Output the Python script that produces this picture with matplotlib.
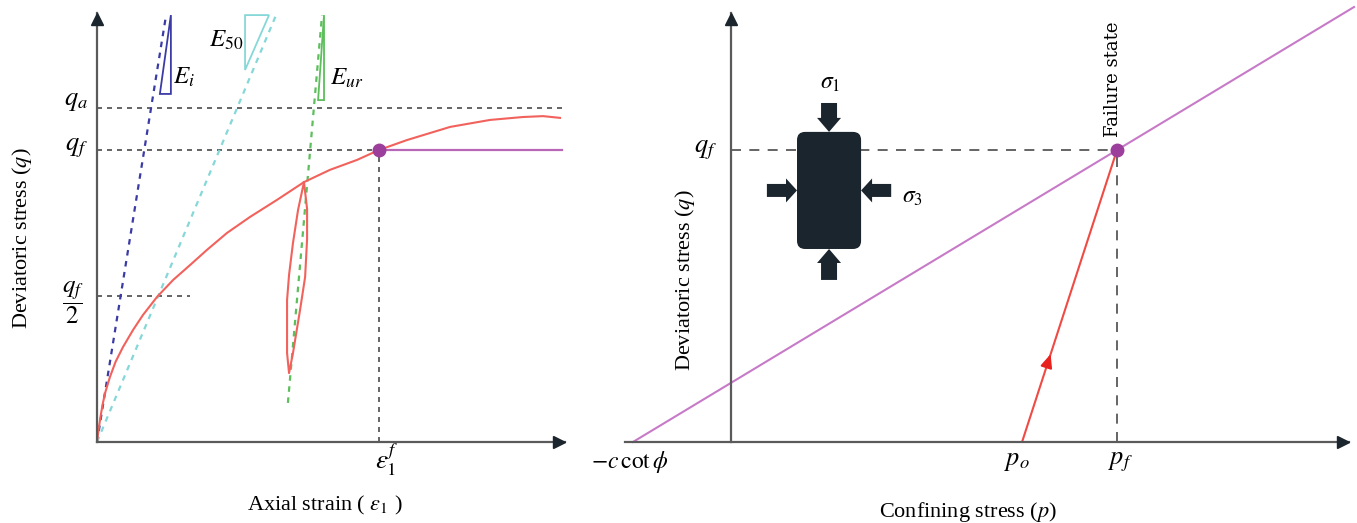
import matplotlib.pyplot as plt
from matplotlib.patches import FancyBboxPatch, FancyArrow, Polygon

plt.rcParams['font.family'] = ['Liberation Serif', 'DejaVu Serif']
plt.rcParams['mathtext.fontset'] = 'stix'

# --- left panel: stress-strain curve (q in units of q_f, strain in units of eps_f)
strain = [0, 0.006, 0.013, 0.021, 0.030, 0.046, 0.066, 0.092, 0.128, 0.163, 0.213, 0.270, 0.330,
          0.390, 0.461, 0.543, 0.638, 0.734, 0.826, 0.922, 1.0, 1.099, 1.252, 1.394, 1.511,
          1.582, 1.642]
q_curve = [0, 0.045, 0.090, 0.134, 0.172, 0.223, 0.275, 0.325, 0.384, 0.435, 0.497, 0.555, 0.606,
           0.658, 0.716, 0.771, 0.829, 0.890, 0.932, 0.966, 1.0, 1.034, 1.079, 1.103, 1.113,
           1.116, 1.110]

# unload / reload loop
loop_strain = [0.734, 0.713, 0.695, 0.681, 0.674, 0.674, 0.681, 0.695, 0.720, 0.738, 0.745, 0.745, 0.734]
loop_q = [0.890, 0.795, 0.682, 0.572, 0.486, 0.305, 0.236, 0.305, 0.452, 0.565, 0.695, 0.798, 0.890]

q_a = 1.144
q_f = 1.0
eps_f = 1.0
eps_axis = 1.66
q_axis = 1.47

# modulus lines
ei_x, ei_y = [0, 0.245], [0, 1.462]
e50_x, e50_y = [0, 0.635], [0, 1.462]
eur_x, eur_y = [0.677, 0.798], [0.134, 1.462]

ei_tri_x, ei_tri_y = [0.223, 0.262, 0.262], [1.192, 1.192, 1.462]
e50_tri_x, e50_tri_y = [0.525, 0.610, 0.525], [1.462, 1.462, 1.274]
eur_tri_x, eur_tri_y = [0.784, 0.805, 0.805], [1.171, 1.171, 1.462]

# --- right panel: p-q plane
p_c = -0.254      # -c cot(phi)
p_o = 0.754
p_f = 1.0
p_axis_lo, p_axis_hi = -0.275, 1.60
fail_p = [p_c, 1.614]
fail_q = [(p - p_c) / (p_f - p_c) * q_f for p in fail_p]
path_p = [p_o, p_f]
path_q = [0, q_f]

# specimen sketch extents
box_p = (0.171, 0.337)
box_q = (0.661, 1.062)

W, H = 1357, 523
fig = plt.figure(figsize=(W / 100, H / 100), dpi=100)

axis_col = '#5a5a5a'
head_col = '#1b252d'
dash_col = '#4a4a4a'
red = '#f2625c'
purple = '#c77ac7'
dot_col = '#9c3f9c'

# left axes: 282 px per strain unit, 292 px per q unit
axL = fig.add_axes([97 / W, 81 / H, 473 / W, 442 / H])
axL.set_xlim(0, 473 / 282)
axL.set_ylim(0, 442 / 292)
axL.axis('off')

axL.plot([0, eps_axis], [0, 0], color=axis_col, lw=1.6, clip_on=False, zorder=3)
axL.plot([0, 0], [0, q_axis], color=axis_col, lw=1.6, clip_on=False, zorder=3)
axL.plot([eps_axis - 0.02], [0], marker='>', ms=9, color=head_col, clip_on=False, zorder=4)
axL.plot([0], [q_axis - 0.02], marker='^', ms=9, color=head_col, clip_on=False, zorder=4)

axL.plot([0, 1.65], [q_a, q_a], color=dash_col, lw=1.2, dashes=(3, 3))
axL.plot([0, eps_f], [q_f, q_f], color=dash_col, lw=1.2, dashes=(3, 3))
axL.plot([eps_f, 1.65], [q_f, q_f], color='#b866b8', lw=1.6)
axL.plot([0, 0.33], [q_f / 2, q_f / 2], color=dash_col, lw=1.2, dashes=(3, 3))
axL.plot([eps_f, eps_f], [0, q_f], color=dash_col, lw=1.2, dashes=(3, 3))

axL.plot(ei_x, ei_y, color='#3b3ba6', lw=1.6, dashes=(2.5, 2.5))
axL.plot(e50_x, e50_y, color='#86d8d8', lw=1.6, dashes=(2.5, 2.5))
axL.plot(eur_x, eur_y, color='#5cbf5c', lw=1.6, dashes=(2.5, 2.5))
axL.add_patch(Polygon(list(zip(ei_tri_x, ei_tri_y)), closed=True, fill=False, ec='#3b3ba6', lw=1.3))
axL.add_patch(Polygon(list(zip(e50_tri_x, e50_tri_y)), closed=True, fill=False, ec='#86d8d8', lw=1.3))
axL.add_patch(Polygon(list(zip(eur_tri_x, eur_tri_y)), closed=True, fill=False, ec='#5cbf5c', lw=1.3))

axL.plot(strain, q_curve, color=red, lw=1.5)
axL.plot(loop_strain, loop_q, color=red, lw=1.5)
axL.plot([eps_f], [q_f], 'o', ms=9, color=dot_col, zorder=5)

axL.text(-0.074, 1.164, r'$q_a$', fontsize=19, ha='center', va='center')
axL.text(-0.074, 1.007, r'$q_f$', fontsize=19, ha='center', va='center')
axL.text(-0.085, 0.476, r'$\dfrac{q_f}{2}$', fontsize=18, ha='center', va='center')
axL.text(1.028, -0.062, r'$\varepsilon_1^f$', fontsize=19, ha='center', va='center')
axL.text(0.309, 1.25, r'$E_i$', fontsize=18, ha='center', va='center')
axL.text(0.457, 1.377, r'$E_{50}$', fontsize=18, ha='center', va='center')
axL.text(0.887, 1.247, r'$E_{ur}$', fontsize=18, ha='center', va='center')
axL.text(0.809, -0.216, r'Axial strain ( $\varepsilon_1$ )', fontsize=16, ha='center', va='center')
axL.text(-0.266, 0.699, r'Deviatoric stress ($q$)', fontsize=16, ha='center', va='center', rotation=90)

# right axes: 386 px per p unit, 292 px per q unit
axR = fig.add_axes([600 / W, 81 / H, 757 / W, 442 / H])
axR.set_xlim((600 - 731) / 386, (1357 - 731) / 386)
axR.set_ylim(0, 442 / 292)
axR.axis('off')

axR.plot([p_axis_lo, p_axis_hi], [0, 0], color=axis_col, lw=1.6, clip_on=False, zorder=3)
axR.plot([0, 0], [0, q_axis], color=axis_col, lw=1.6, clip_on=False, zorder=3)
axR.plot([p_axis_hi - 0.015], [0], marker='>', ms=9, color=head_col, clip_on=False, zorder=4)
axR.plot([0], [q_axis - 0.02], marker='^', ms=9, color=head_col, clip_on=False, zorder=4)

axR.plot([0, p_f], [q_f, q_f], color=dash_col, lw=1.2, dashes=(6, 5))
axR.plot([p_f, p_f], [0, q_f], color=dash_col, lw=1.2, dashes=(6, 5))
axR.plot(fail_p, fail_q, color=purple, lw=1.5, clip_on=False)
axR.plot(path_p, path_q, color='#f04a44', lw=1.5)
arrow_frac = 0.31
ax0 = p_o + (p_f - p_o) * (arrow_frac - 0.04)
ay0 = q_f * (arrow_frac - 0.04)
axR.annotate('', xy=(p_o + (p_f - p_o) * arrow_frac, q_f * arrow_frac), xytext=(ax0, ay0),
             arrowprops=dict(arrowstyle='-|>,head_length=0.8,head_width=0.35', color='#e8221e', lw=1.5))
axR.plot([p_f], [q_f], 'o', ms=9, color=dot_col, zorder=5)

axR.add_patch(FancyBboxPatch((box_p[0], box_q[0]), box_p[1] - box_p[0], box_q[1] - box_q[0],
                             boxstyle='round,pad=0,rounding_size=0.021', mutation_aspect=386 / 292,
                             fc=head_col, ec='none', zorder=4))
pc = (box_p[0] + box_p[1]) / 2
qc = (box_q[0] + box_q[1]) / 2
# vertical loading arrows (sigma_1)
axR.add_patch(FancyArrow(pc, 1.161, 0, box_q[1] - 1.161, width=16 / 386, head_width=24 / 386,
                         head_length=14 / 292, length_includes_head=True, color=head_col, lw=0, zorder=4))
axR.add_patch(FancyArrow(pc, 0.555, 0, box_q[0] - 0.555, width=16 / 386, head_width=24 / 386,
                         head_length=14 / 292, length_includes_head=True, color=head_col, lw=0, zorder=4))
# lateral confining arrows (sigma_3)
axR.add_patch(FancyArrow(0.093, qc, box_p[0] - 0.093, 0, width=13 / 292, head_width=24 / 292,
                         head_length=11 / 386, length_includes_head=True, color=head_col, lw=0, zorder=4))
axR.add_patch(FancyArrow(0.415, qc, box_p[1] - 0.415, 0, width=13 / 292, head_width=24 / 292,
                         head_length=11 / 386, length_includes_head=True, color=head_col, lw=0, zorder=4))
axR.text(0.256, 1.229, r'$\sigma_1$', fontsize=17, ha='center', va='center')
axR.text(0.470, 0.839, r'$\sigma_3$', fontsize=17, ha='center', va='center')

axR.text(-0.067, 1.0, r'$q_f$', fontsize=19, ha='center', va='center')
axR.text(-0.262, -0.068, r'$-c\,\cot\phi$', fontsize=17, ha='center', va='center')
axR.text(0.741, -0.068, r'$p_o$', fontsize=19, ha='center', va='center')
axR.text(1.008, -0.068, r'$p_f$', fontsize=19, ha='center', va='center')
axR.text(p_f - 0.01, 1.045, 'Failure state', fontsize=13, family='DejaVu Serif',
         ha='center', va='bottom', rotation=90)
axR.text(0.614, -0.240, r'Confining stress ($p$)', fontsize=16, ha='center', va='center')
axR.text(-0.119, 0.555, r'Deviatoric stress ($q$)', fontsize=16, ha='center', va='center', rotation=90)

fig.savefig('out.png', dpi=100)
